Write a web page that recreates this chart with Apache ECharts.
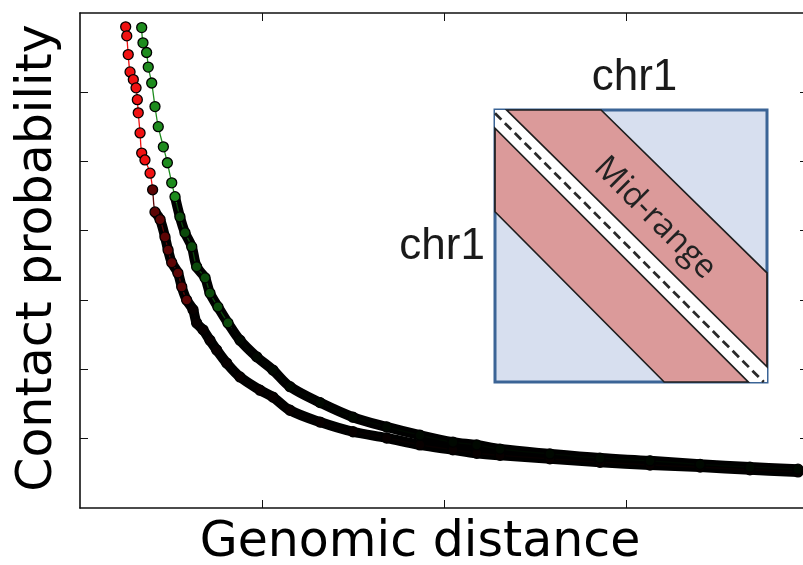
<!DOCTYPE html>
<html>
<head>
<meta charset="utf-8">
<style>html,body{margin:0;padding:0;background:#fff;}#c{width:803px;height:565px;}</style>
<script src="https://cdn.jsdelivr.net/npm/echarts@6/dist/echarts.min.js"></script>
</head>
<body>
<div id="c"></div>
<script>
// Tick positions (labels hidden in the reference)
const xTicks = [1, 2, 3];
const yTicks = [1, 2, 3, 4, 5, 6];

// Contact probability vs genomic distance (arbitrary units)
const redCurve = [
  [0.251,6.94],[0.257,6.81],[0.265,6.54],[0.275,6.29],[0.293,6.18],[0.308,6.06],
  [0.315,5.89],[0.320,5.70],[0.330,5.41],[0.339,5.12],[0.357,5.02],[0.385,4.83],
  [0.399,4.59],[0.412,4.27],[0.440,4.16],[0.467,3.91],[0.484,3.72],[0.504,3.54],
  [0.538,3.39],[0.559,3.19],[0.586,3.00],[0.621,2.86],[0.641,2.67],[0.676,2.57],
  [0.714,2.42],[0.751,2.28],[0.806,2.09],[0.879,1.89],[0.989,1.70],[1.060,1.60],
  [1.154,1.41],[1.319,1.24],[1.500,1.10],[1.685,1.01],[1.868,0.91],[2.049,0.84],
  [2.180,0.79],[2.308,0.76],[2.582,0.71],[2.857,0.66],[3.132,0.62],[3.407,0.59],
  [3.681,0.55],[3.945,0.52]
];
const greenCurve = [
  [0.339,6.93],[0.346,6.71],[0.366,6.57],[0.375,6.36],[0.394,6.13],[0.412,5.79],
  [0.430,5.50],[0.458,5.21],[0.480,4.98],[0.504,4.69],[0.522,4.49],[0.549,4.20],
  [0.577,3.97],[0.614,3.77],[0.641,3.48],[0.687,3.32],[0.714,3.10],[0.758,2.90],
  [0.813,2.67],[0.879,2.42],[0.971,2.18],[1.060,1.99],[1.154,1.75],[1.319,1.52],
  [1.500,1.31],[1.685,1.17],[1.868,1.05],[2.049,0.95],[2.180,0.91],[2.308,0.85],
  [2.582,0.78],[2.857,0.72],[3.132,0.68],[3.407,0.63],[3.681,0.59],[3.945,0.56]
];

// Inset schematic (fractions of the inset square, v measured downward)
const insetBox = [[0,0],[1,0],[1,1],[0,1]];
const insetGap = [[0,0],[0.043,0],[1,0.944],[1,1],[0.931,1],[0,0.067]];
const insetUpperBand = [[0.043,0],[0.39,0],[1,0.599],[1,0.944]];
const insetLowerBand = [[0,0.067],[0,0.374],[0.622,1],[0.931,1]];
const insetDiagonal = [[0,0.012],[0.988,1]];
const insetTexts = ['chr1', 'chr1', 'Mid-range'];
const insetTextPos = [[0.513,-0.119],[-0.037,0.502],[0.588,0.397]];

const chart = echarts.init(document.getElementById('c'));

const frameAxis = (extra) => Object.assign({
  type: 'value',
  axisLine: { show: true, onZero: false, lineStyle: { color: '#111', width: 1.6 } },
  axisLabel: { show: false },
  splitLine: { show: false }
}, extra);
const tickStyle = (vals) => ({ show: true, inside: true, length: 8, customValues: vals, lineStyle: { color: '#111', width: 1 } });

const option = {
  animation: false,
  backgroundColor: '#fff',
  grid: [
    { left: 80, right: -5, top: 13, bottom: 57, containLabel: false, outerBoundsMode: 'none' },
    { left: 495, top: 110, width: 272, height: 272, containLabel: false, outerBoundsMode: 'none' }
  ],
  xAxis: [
    frameAxis({ gridIndex: 0, position: 'bottom', min: 0, max: 4, interval: 1, axisTick: tickStyle(xTicks) }),
    frameAxis({ gridIndex: 0, position: 'top', min: 0, max: 4, interval: 1, axisTick: tickStyle(xTicks) }),
    { type: 'value', gridIndex: 1, min: 0, max: 1, show: false }
  ],
  yAxis: [
    frameAxis({ gridIndex: 0, position: 'left', min: 0, max: 7.14, interval: 1, axisTick: tickStyle(yTicks) }),
    frameAxis({ gridIndex: 0, position: 'right', min: 0, max: 7.14, interval: 1, axisTick: tickStyle(yTicks) }),
    { type: 'value', gridIndex: 1, min: 0, max: 1, inverse: true, show: false }
  ],
  visualMap: [
    { type: 'piecewise', show: false, seriesIndex: 2, dimension: 1,
      pieces: [ { lt: 3.0, color: '#080000' }, { gte: 3.0, lt: 4.6, color: '#5c0505' }, { gte: 4.6, color: '#f01212' } ] },
    { type: 'piecewise', show: false, seriesIndex: 3, dimension: 1,
      pieces: [ { lt: 2.6, color: '#000800' }, { gte: 2.6, lt: 4.4, color: '#0b4a0b' }, { gte: 4.4, color: '#1e8c1e' } ] }
  ],
  series: [
    { type: 'line', xAxisIndex: 0, yAxisIndex: 0, data: redCurve.filter(p => p[1] <= 4.3),
      symbol: 'none', smooth: 0.35, lineStyle: { color: '#000', width: 10, cap: 'butt' }, z: 2, silent: true },
    { type: 'line', xAxisIndex: 0, yAxisIndex: 0, data: greenCurve.filter(p => p[1] <= 4.5),
      symbol: 'none', smooth: 0.35, lineStyle: { color: '#000', width: 10, cap: 'butt' }, z: 2, silent: true },
    { type: 'line', xAxisIndex: 0, yAxisIndex: 0, data: redCurve, symbol: 'circle', symbolSize: 10,
      showAllSymbol: true, smooth: 0.35, lineStyle: { width: 1.3 },
      itemStyle: { borderColor: '#000', borderWidth: 1.3 }, z: 3, silent: true },
    { type: 'line', xAxisIndex: 0, yAxisIndex: 0, data: greenCurve, symbol: 'circle', symbolSize: 10,
      showAllSymbol: true, smooth: 0.35, lineStyle: { width: 1.3 },
      itemStyle: { borderColor: '#000', borderWidth: 1.3 }, z: 3, silent: true },
    { type: 'custom', xAxisIndex: 2, yAxisIndex: 2, data: [[0, 0]], clip: false, silent: true, z: 10,
      renderItem: function (params, api) {
        const pts = arr => arr.map(p => api.coord(p));
        const d0 = api.coord(insetDiagonal[0]), d1 = api.coord(insetDiagonal[1]);
        const t = insetTextPos.map(p => api.coord(p));
        return {
          type: 'group',
          children: [
            { type: 'polygon', shape: { points: pts(insetBox) },
              style: { fill: '#d7dfef', stroke: '#3b6496', lineWidth: 3 } },
            { type: 'polygon', shape: { points: pts(insetGap) }, style: { fill: '#ffffff' } },
            { type: 'polygon', shape: { points: pts(insetUpperBand) },
              style: { fill: '#db9a9a', stroke: '#1e1e1e', lineWidth: 1.7 } },
            { type: 'polygon', shape: { points: pts(insetLowerBand) },
              style: { fill: '#db9a9a', stroke: '#1e1e1e', lineWidth: 1.7 } },
            { type: 'line', shape: { x1: d0[0], y1: d0[1], x2: d1[0], y2: d1[1] },
              style: { stroke: '#2a2a2a', lineWidth: 2.8, lineDash: [9, 5] } },
            { type: 'text', x: t[0][0], y: t[0][1],
              style: { text: insetTexts[0], font: '44px "Liberation Sans"', fill: '#1a1a1a', align: 'center', verticalAlign: 'middle' } },
            { type: 'text', x: t[1][0], y: t[1][1],
              style: { text: insetTexts[1], font: '44px "Liberation Sans"', fill: '#1a1a1a', align: 'right', verticalAlign: 'middle' } },
            { type: 'text', x: t[2][0], y: t[2][1], rotation: -Math.PI / 4,
              style: { text: insetTexts[2], font: '33px "Open Sans"', fill: '#222', align: 'center', verticalAlign: 'middle' } }
          ]
        };
      }
    }
  ],
  graphic: [
    { type: 'text', x: 420, y: 543, silent: true,
      style: { text: 'Genomic distance', font: '49px "DejaVu Sans"', fill: '#000', align: 'center', verticalAlign: 'middle' } },
    { type: 'text', x: 38, y: 258, rotation: Math.PI / 2, silent: true,
      style: { text: 'Contact probability', font: '49px "DejaVu Sans"', fill: '#000', align: 'center', verticalAlign: 'middle' } }
  ]
};
chart.setOption(option);
</script>
</body>
</html>
